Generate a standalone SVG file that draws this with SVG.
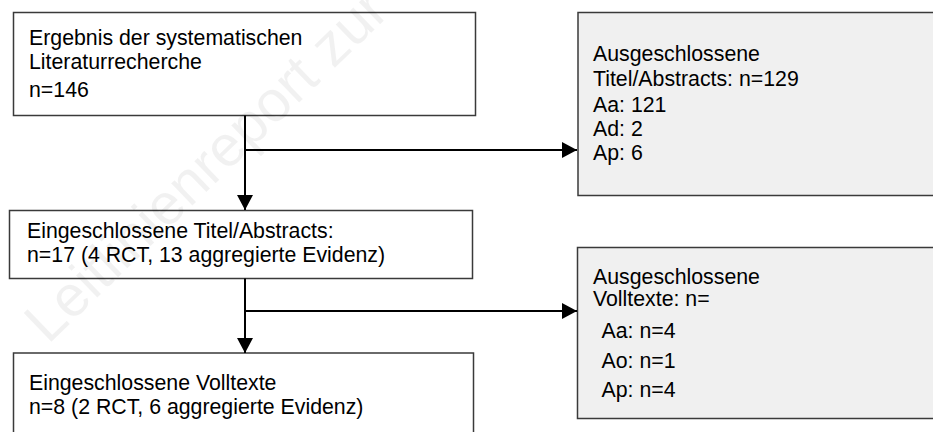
<svg xmlns="http://www.w3.org/2000/svg" width="933" height="432" viewBox="0 0 933 432">
<style>
text{font-family:"Liberation Sans",Arial,sans-serif;font-size:21.3px;fill:#000}
.box{fill:#fff;stroke:#3a3a3a;stroke-width:1.5}
.grey{fill:#f0f0f0;stroke:#3a3a3a;stroke-width:1.5}
.con{stroke:#000;stroke-width:2;fill:none}
.wm{font-size:58px;fill:#000;fill-opacity:0.055}
</style>
<defs>
<marker id="ah" markerUnits="userSpaceOnUse" markerWidth="16" markerHeight="16" refX="15" refY="8" orient="auto">
<path d="M0,0 L15,8 L0,16 z" fill="#000"/>
</marker>
</defs>
<rect width="933" height="432" fill="#fff"/>
<g id="n1">
<rect class="box" x="13.5" y="12.5" width="462" height="103"/>
<text x="29" y="44.5">Ergebnis der systematischen</text>
<text x="29" y="68.5">Literaturrecherche</text>
<text x="29" y="96.5">n=146</text>
</g>
<g id="n2">
<rect class="grey" x="578" y="12.5" width="400" height="183"/>
<text x="593" y="61">Ausgeschlossene</text>
<text x="593" y="85.7">Titel/Abstracts: n=129</text>
<text x="593" y="111.7">Aa: 121</text>
<text x="593" y="136">Ad: 2</text>
<text x="593" y="160">Ap: 6</text>
</g>
<g id="n3">
<rect class="box" x="9.5" y="210.5" width="463" height="68"/>
<text x="27" y="238.3">Eingeschlossene Titel/Abstracts:</text>
<text x="27" y="261.7">n=17 (4 RCT, 13 aggregierte Evidenz)</text>
</g>
<g id="n4">
<rect class="grey" x="577.5" y="247.5" width="400" height="171"/>
<text x="593" y="284">Ausgeschlossene</text>
<text x="593" y="306">Volltexte: n=</text>
<text x="601.5" y="337.7">Aa: n=4</text>
<text x="601.5" y="368.3">Ao: n=1</text>
<text x="601.5" y="396.7">Ap: n=4</text>
</g>
<g id="n5">
<rect class="box" x="13.5" y="353" width="460" height="120"/>
<text x="29" y="390">Eingeschlossene Volltexte</text>
<text x="29" y="414">n=8 (2 RCT, 6 aggregierte Evidenz)</text>
</g>
<g id="connectors">
<line class="con" x1="245" y1="115.5" x2="245" y2="210" marker-end="url(#ah)"/>
<line class="con" x1="245" y1="150" x2="577" y2="150" marker-end="url(#ah)"/>
<line class="con" x1="245" y1="278.5" x2="245" y2="353" marker-end="url(#ah)"/>
<line class="con" x1="245" y1="311" x2="577" y2="311" marker-end="url(#ah)"/>
</g>
<text class="wm" transform="translate(48,345) rotate(-44)">Leitlinienreport zur</text>
</svg>
